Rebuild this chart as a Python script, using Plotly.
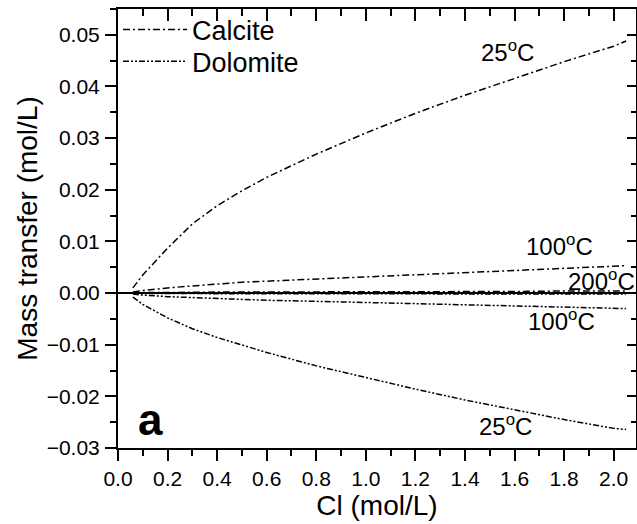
import plotly.graph_objects as go

# ---- data ----
cl = [0.06, 0.1, 0.2, 0.3, 0.4, 0.5, 0.6, 0.8, 1.0, 1.2, 1.4, 1.6, 1.8, 2.0, 2.05]

calcite_25 = [0.0010, 0.0035, 0.0087, 0.0134, 0.0169, 0.0198, 0.0224, 0.0269, 0.0310, 0.0348,
              0.0383, 0.0416, 0.0448, 0.0478, 0.0488]
calcite_100 = [0.0002, 0.0005, 0.0010, 0.0014, 0.0018, 0.0021, 0.0023, 0.0027, 0.0031, 0.0035,
               0.0039, 0.0043, 0.0047, 0.0051, 0.0053]
calcite_200 = [0.0000, 0.0001, 0.0001, 0.0002, 0.0002, 0.0002, 0.0002, 0.0003, 0.0003, 0.0003,
               0.0003, 0.0003, 0.0004, 0.0004, 0.0004]

dolomite_25 = [-0.0008, -0.0022, -0.0048, -0.0069, -0.0086, -0.0101, -0.0115, -0.0141, -0.0164,
               -0.0186, -0.0207, -0.0226, -0.0245, -0.0262, -0.0264]
dolomite_100 = [-0.0002, -0.0004, -0.0007, -0.0009, -0.0011, -0.0013, -0.0014, -0.0016, -0.0018,
                -0.0020, -0.0022, -0.0025, -0.0027, -0.0029, -0.0030]
dolomite_200 = [0.0000, -0.0001, -0.0001, -0.0001, -0.0001, -0.0002, -0.0002, -0.0002, -0.0002,
                -0.0002, -0.0002, -0.0002, -0.0002, -0.0002, -0.0002]

labels = ["25<sup>o</sup>C", "100<sup>o</sup>C", "200<sup>o</sup>C", "100<sup>o</sup>C", "25<sup>o</sup>C"]
label_x = [1.57, 1.78, 1.95, 1.79, 1.565]
label_y = [0.0468, 0.0094, 0.0026, -0.0053, -0.0255]

FONT = "Liberation Sans, Arial, sans-serif"
CALCITE_DASH = "7px,3px,2px,3px"
DOLOMITE_DASH = "6px,2px,2px,2px,2px,2px"

fig = go.Figure()

calcite_series = [calcite_25, calcite_100, calcite_200]
dolomite_series = [dolomite_25, dolomite_100, dolomite_200]

for i, ys in enumerate(calcite_series):
    fig.add_trace(go.Scatter(x=cl, y=ys, mode="lines", name="Calcite",
                             legend="legend", legendgroup="calcite", showlegend=(i == 0),
                             line=dict(color="black", width=1.5, dash=CALCITE_DASH)))
for i, ys in enumerate(dolomite_series):
    fig.add_trace(go.Scatter(x=cl, y=ys, mode="lines", name="Dolomite",
                             legend="legend2", legendgroup="dolomite", showlegend=(i == 0),
                             line=dict(color="black", width=1.5, dash=DOLOMITE_DASH)))

# transparent copy on the overlaying top/right axes (they carry the inside ticks)
fig.add_trace(go.Scatter(x=cl, y=calcite_200, xaxis="x2", yaxis="y2", mode="lines",
                         line=dict(color="rgba(0,0,0,0)", width=1),
                         showlegend=False, hoverinfo="skip"))

xr = [0, 2.09]
yr = [-0.03, 0.055]

common = dict(showgrid=False, showline=True, linewidth=2, linecolor="black",
              tickcolor="black", tickwidth=2)

legend_common = dict(xanchor="left", yanchor="top", bgcolor="rgba(0,0,0,0)",
                     font=dict(size=27, family=FONT), itemwidth=64)

fig.update_layout(
    width=637, height=524,
    margin=dict(l=118, r=1, t=9, b=76, autoexpand=False),
    plot_bgcolor="white", paper_bgcolor="white",
    font=dict(family=FONT, color="black"),
    showlegend=True,
    legend=dict(x=0.0, y=1.008, **legend_common),
    legend2=dict(x=0.0, y=0.936, **legend_common),
    xaxis=dict(range=xr, dtick=0.2, tick0=0, tickformat=".1f",
               ticks="outside", ticklen=11, zeroline=False,
               tickfont=dict(size=21), ticklabelstandoff=0,
               minor=dict(dtick=0.1, ticks="outside", ticklen=6, tickwidth=2,
                          tickcolor="black", showgrid=False),
               title=dict(text="Cl (mol/L)", font=dict(size=28), standoff=0),
               **common),
    yaxis=dict(range=yr, dtick=0.01, tick0=0, tickformat=".2f",
               ticks="outside", ticklen=11,
               zeroline=True, zerolinecolor="black", zerolinewidth=2,
               tickfont=dict(size=21), ticklabelstandoff=1,
               minor=dict(dtick=0.005, ticks="outside", ticklen=6, tickwidth=2,
                          tickcolor="black", showgrid=False),
               title=dict(text="Mass transfer (mol/L)", font=dict(size=28), standoff=1),
               **common),
    xaxis2=dict(range=xr, overlaying="x", side="top", anchor="y",
                dtick=0.2, ticks="inside", ticklen=12, showticklabels=False,
                zerolinecolor="black", zerolinewidth=2,
                minor=dict(dtick=0.1, ticks="inside", ticklen=7, tickwidth=2,
                           tickcolor="black"),
                **common),
    yaxis2=dict(range=yr, overlaying="y", side="right", anchor="x",
                dtick=0.01, ticks="inside", ticklen=9, showticklabels=False,
                zerolinecolor="black", zerolinewidth=2,
                minor=dict(dtick=0.005, ticks="inside", ticklen=5, tickwidth=2,
                           tickcolor="black"),
                **common),
)

for t, x, y in zip(labels, label_x, label_y):
    fig.add_annotation(x=x, y=y, xref="x", yref="y", text=t, showarrow=False,
                       font=dict(size=24, family=FONT, color="black"),
                       xanchor="center", yanchor="middle")

fig.add_annotation(x=0.13, y=-0.0245, xref="x", yref="y", text="<b>a</b>",
                   showarrow=False, font=dict(size=44, family=FONT, color="black"),
                   xanchor="center", yanchor="middle")

fig.write_html("out.html")
